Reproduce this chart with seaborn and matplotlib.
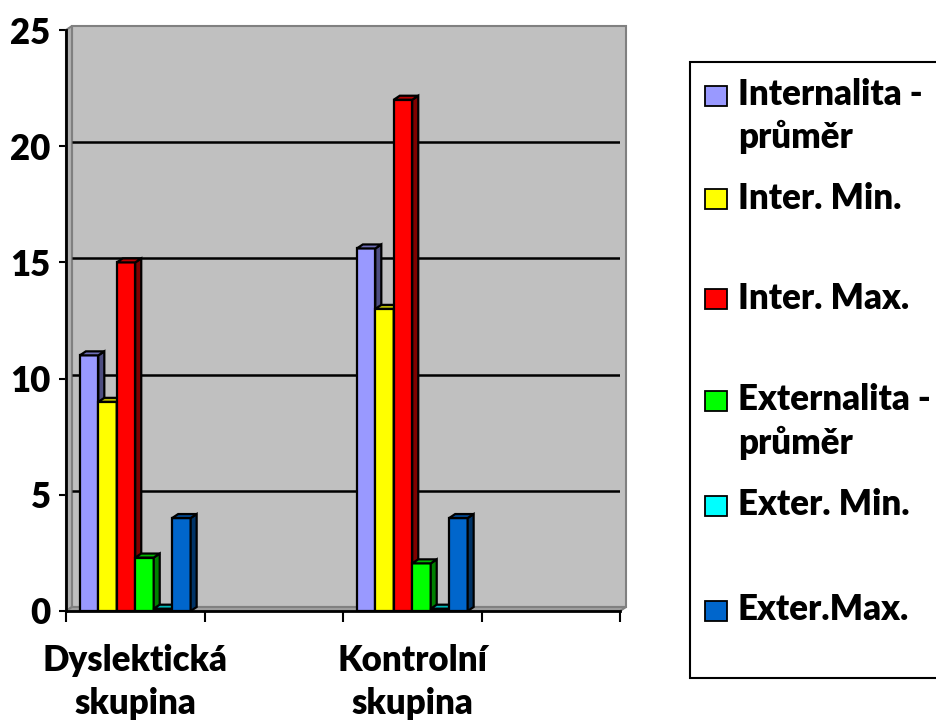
import numpy as np
import pandas as pd
import matplotlib
matplotlib.use("Agg")
import matplotlib.pyplot as plt
import matplotlib.transforms as mtransforms
from matplotlib.patches import Polygon, Rectangle
import seaborn as sns

# --- data -------------------------------------------------------------
groups = ["Dyslektická\nskupina", "Kontrolní\nskupina"]
series = ["Internalita -\nprůměr", "Inter. Min.", "Inter. Max.",
          "Externalita -\nprůměr", "Exter. Min.", "Exter.Max."]
dyslekticka = [11.0, 9.0, 15.0, 2.3, 0.1, 4.0]
kontrolni = [15.6, 13.0, 22.0, 2.05, 0.1, 4.0]
colors = ["#9999FF", "#FFFF00", "#FF0000", "#00FF00", "#00FFFF", "#0066CC"]
y_ticks = [0, 5, 10, 15, 20, 25]

df = pd.DataFrame({
    "skupina": np.repeat(groups, len(series)),
    "ukazatel": series * len(groups),
    "hodnota": dyslekticka + kontrolni,
})

sns.set_theme(style="white")
plt.rcParams["font.family"] = ["Lato", "DejaVu Sans"]
FS = 25
FW = "heavy"

W, H, DPI = 936, 726, 100
fig = plt.figure(figsize=(W / DPI, H / DPI), dpi=DPI)
fig.patch.set_facecolor("white")

# axes box in pixels (front plane)
L, R, B, T = 66, 620, 611, 30
ax = fig.add_axes([L / W, 1 - B / H, (R - L) / W, (B - T) / H])
ax.set_facecolor("none")

sns.barplot(data=df, x="skupina", y="hodnota", hue="ukazatel",
            hue_order=series, palette=colors, width=0.4,
            edgecolor="black", linewidth=1.6, saturation=1,
            legend=False, ax=ax)
bars = sorted(list(ax.patches), key=lambda p: p.get_x())

x0, x1 = -0.25, 1.75
ax.set_xlim(x0, x1)
ax.set_ylim(0, 25)

# 3-D depth in pixels converted to data units
DX, DY = 6, 4
px_x = (R - L) / (x1 - x0)
px_y = (B - T) / 25.0
dxd, dyd = DX / px_x, DY / px_y

# walls
wall_kw = dict(clip_on=False, linewidth=1.5, edgecolor="#808080")
ax.add_patch(Rectangle((x0 + dxd, dyd), x1 - x0, 25, facecolor="#C0C0C0",
                       zorder=0.5, **wall_kw))
ax.add_patch(Polygon([(x0, 0), (x0, 25), (x0 + dxd, 25 + dyd), (x0 + dxd, dyd)],
                     closed=True, facecolor="#B0B0B0", zorder=0.6, **wall_kw))
ax.add_patch(Polygon([(x0, 0), (x1, 0), (x1 + dxd, dyd), (x0 + dxd, dyd)],
                     closed=True, facecolor="#A0A0A0", zorder=0.6, **wall_kw))
grid = ax.hlines(y_ticks[1:-1], x0 + dxd, x1 + dxd, colors="black",
                 linewidth=1.8, zorder=0.7)
grid.set_transform(ax.transData + mtransforms.ScaledTranslation(
    0, DY / DPI, fig.dpi_scale_trans))

for i, p in enumerate(bars):
    bx, by, bw, bh = p.get_x(), p.get_y(), p.get_width(), p.get_height()
    fc = np.array(p.get_facecolor()[:3])
    z = 2 + i * 0.01
    p.set_zorder(z)
    side = Polygon([(bx + bw, by), (bx + bw, by + bh),
                    (bx + bw + dxd, by + bh + dyd), (bx + bw + dxd, by + dyd)],
                   closed=True, facecolor=tuple(fc * 0.5),
                   edgecolor="black", linewidth=1.6, zorder=z + 0.001)
    top = Polygon([(bx, by + bh), (bx + bw, by + bh),
                   (bx + bw + dxd, by + bh + dyd), (bx + dxd, by + bh + dyd)],
                  closed=True, facecolor=tuple(fc * 0.72),
                  edgecolor="black", linewidth=1.6, zorder=z + 0.001)
    ax.add_patch(side)
    ax.add_patch(top)

# spines and ticks
for s in ["top", "right"]:
    ax.spines[s].set_visible(False)
for s in ["left", "bottom"]:
    ax.spines[s].set_color("black")
    ax.spines[s].set_linewidth(2)
    ax.spines[s].set_zorder(5)

ax.set_yticks(y_ticks)
ax.set_yticklabels([str(v) for v in y_ticks], fontsize=FS, fontweight=FW)
ax.tick_params(axis="y", direction="out", length=5, width=1.5, pad=6,
               left=True, colors="black")

ax.set_xticks([-0.25, 0.25, 0.75, 1.25, 1.75])
ax.set_xticklabels([])
ax.set_xticks([0, 1], minor=True)
ax.set_xticklabels(groups, minor=True, fontsize=FS, fontweight=FW,
                   linespacing=1.35)
ax.tick_params(axis="x", which="major", direction="out", length=8, width=1.5,
               bottom=True, colors="black")
ax.tick_params(axis="x", which="minor", length=0, pad=24, colors="black")
ax.set_xlabel("")
ax.set_ylabel("")

# legend box drawn in figure pixels
def fx(px):
    return px / W


def fy(py):
    return 1 - py / H


fig.patches.append(Rectangle((fx(690), fy(678)), fx(960) - fx(690),
                             fy(62) - fy(678), transform=fig.transFigure,
                             facecolor="white", edgecolor="black",
                             linewidth=1.5, figure=fig))
marker_y = [96, 199, 299, 401, 506, 611]
line_baselines = [[105, 148], [209], [309], [410, 454], [515], [620]]
for lab, col, my, bls in zip(series, colors, marker_y, line_baselines):
    fig.patches.append(Rectangle((fx(705), fy(my + 10)), fx(727) - fx(705),
                                 fy(my - 10) - fy(my + 10),
                                 transform=fig.transFigure, facecolor=col,
                                 edgecolor="black", linewidth=1.3, figure=fig))
    for line, bl in zip(lab.split("\n"), bls):
        fig.text(fx(738), fy(bl), line, fontsize=FS, fontweight=FW,
                 va="baseline", ha="left", color="black")

fig.savefig("out.png", dpi=DPI, facecolor="white")
